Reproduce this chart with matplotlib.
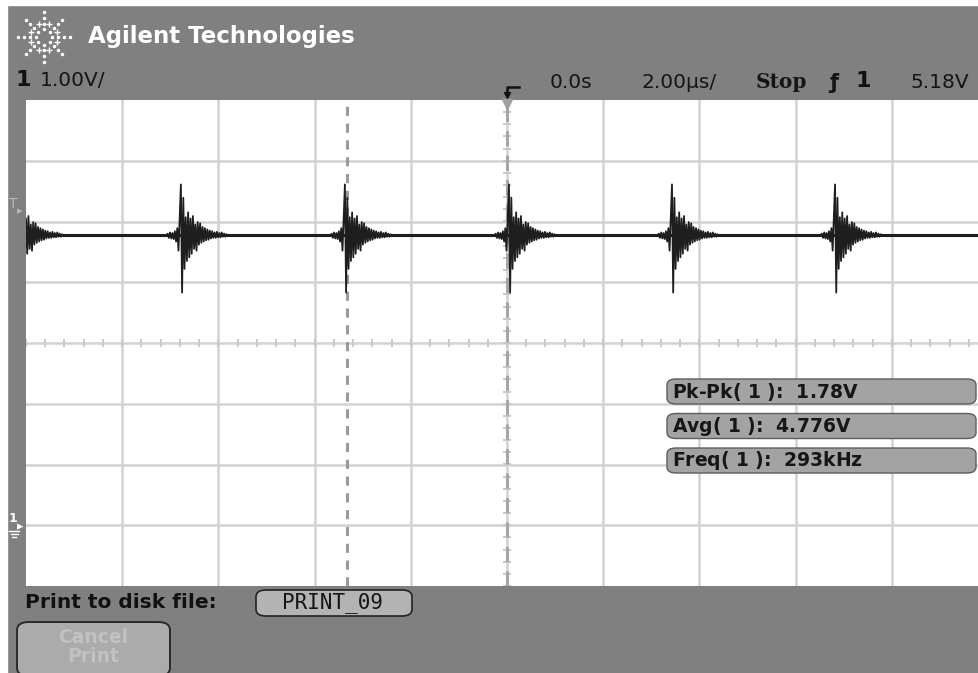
import numpy as np
import matplotlib.pyplot as plt
from matplotlib.patches import FancyBboxPatch, Rectangle

W, H = 979, 673

# scope settings
time_per_div = 2.0      # us/div
volts_per_div = 1.0     # V/div
offset_v = 3.03         # volts at screen centre
trigger_level = 5.18
cursor_t = -3.33

# channel 1: DC level with ringing bursts at each switching edge
baseline_v = 4.80
burst_times = [-10.2, -6.78, -3.37, 0.04, 3.43, 6.82]
burst_start = -0.30
burst_step = 0.025
burst_offsets = [0.00, 0.03, -0.04, 0.05, -0.05, 0.04, -0.06, 0.07, -0.10, 0.12,
                 -0.25, 0.30, 0.84, -0.94, 0.62, -0.55, 0.30, -0.42, 0.38, -0.36,
                 0.28, -0.30, 0.32, -0.22, 0.18, -0.25, 0.22, -0.15, 0.20, -0.12,
                 0.14, -0.10, 0.12, -0.08, 0.10, -0.07, 0.08, -0.05, 0.07, -0.04,
                 0.05, -0.04, 0.06, -0.03, 0.04, -0.03, 0.05, -0.02, 0.03, -0.02,
                 0.02, -0.01, 0.00]

meas_names = ["Pk-Pk", "Avg", "Freq"]
meas_values = ["1.78V", "4.776V", "293kHz"]


def fx(x):
    return x / W


def fy(y):
    return 1 - y / H


fig = plt.figure(figsize=(W / 100, H / 100), dpi=100)
fig.patch.set_facecolor('#808080')
fig.patches.append(Rectangle((0, fy(5)), 1, 5 / H, transform=fig.transFigure,
                             color='white', zorder=0))
fig.patches.append(Rectangle((0, 0), fx(7), 1, transform=fig.transFigure,
                             color='white', zorder=0))

# graticule area
left_px, top_px, bot_px = 26, 100, 586
px_per_us = 48.1
ax = fig.add_axes([fx(left_px), fy(bot_px), 1 - fx(left_px), (bot_px - top_px) / H])
ax.set_facecolor('white')
ax.set_xlim(-10, -10 + (W - left_px) / px_per_us)
ax.set_ylim(offset_v - 4 * volts_per_div, offset_v + 4 * volts_per_div)
for s in ax.spines.values():
    s.set_visible(False)
ax.set_xticks([])
ax.set_yticks([])

grid_c = '#d2d2d2'
for k in range(-4, 5):
    ax.axvline(k * time_per_div, color=grid_c, lw=1.8, zorder=1)
for k in range(-3, 4):
    ax.axhline(offset_v + k * volts_per_div, color=grid_c, lw=1.8, zorder=1)

# minor ticks on the centre lines
ht = np.arange(-10, 10.01, time_per_div / 5)
ax.vlines(ht, offset_v - 0.065, offset_v + 0.065, color='#c8c8c8', lw=1.4, zorder=1)
vt = offset_v + np.arange(-4, 4.01, volts_per_div / 5)
ax.hlines(vt, -0.08, 0.08, color='#c8c8c8', lw=1.4, zorder=1)

# trigger position and cursor
ax.axvline(0, color='#a6a6a6', lw=2.2, dashes=(5, 3), zorder=2)
ax.axvline(cursor_t, color='#9a9a9a', lw=2.2, dashes=(3, 2.5), zorder=2)
ax.plot(0, offset_v + 4 * volts_per_div - 0.06, marker='v', color='#a0a0a0',
        ms=7, clip_on=False, zorder=3)

# trace
t_all = [-10.5]
v_all = [baseline_v]
for tb in burst_times:
    for i, off in enumerate(burst_offsets):
        t_all.append(tb + burst_start + i * burst_step)
        v_all.append(baseline_v + off)
t_all.append(10.5)
v_all.append(baseline_v)
ax.plot(t_all, v_all, color='#1e1e1e', lw=1.3, zorder=4)
ax.axhline(baseline_v, color='#1e1e1e', lw=2.2, zorder=4)

# header: logo + brand
cx, cy = 44, 37
for a in np.arange(0, 360, 45):
    r = np.arange(8, 30, 6)
    xs = cx + r * np.cos(np.radians(a))
    ys = cy - r * np.sin(np.radians(a)) * 0.95
    fig.add_artist(plt.Line2D(fx(xs), fy(ys), ls='none', marker='o', ms=1.5,
                              color='white', transform=fig.transFigure))
for a in np.arange(22.5, 360, 45):
    r = np.array([14.0])
    xs = cx + r * np.cos(np.radians(a))
    ys = cy - r * np.sin(np.radians(a))
    fig.add_artist(plt.Line2D(fx(xs), fy(ys), ls='none', marker='+', ms=4,
                              mew=1, color='white', transform=fig.transFigure))
fig.text(fx(88), fy(37), "Agilent Technologies", color='white', fontsize=16.5,
         fontweight='bold', va='center', ha='left')

# status line
st = dict(fontsize=14.5, color='#151515', va='center')
fig.text(fx(16), fy(80), "1", fontsize=16, fontweight='bold', color='#111111',
         va='center')
fig.text(fx(40), fy(80), "1.00V/", **st)
fig.text(fx(550), fy(82), "0.0s", **st)
fig.text(fx(642), fy(82), "2.00µs/", **st)
fig.text(fx(756), fy(82), "Stop", fontsize=14.5, fontweight='bold',
         family='DejaVu Serif', color='#151515', va='center')
fig.text(fx(829), fy(83), "ƒ", fontsize=15, fontweight='bold', color='#151515',
         va='center')
fig.text(fx(855), fy(81), "1", fontsize=16, fontweight='bold', color='#111111',
         va='center')
fig.text(fx(969), fy(82), "5.18V", ha='right', **st)
fig.add_artist(plt.Line2D([fx(519), fx(507), fx(507)], [fy(87), fy(87), fy(95)],
                          color='#111111', lw=1.8, transform=fig.transFigure))
fig.add_artist(plt.Line2D([fx(507)], [fy(95)], marker='v', ms=5,
                          color='#111111', transform=fig.transFigure))

# left gutter markers
trig_y = top_px + (offset_v + 4 - trigger_level) * (bot_px - top_px) / 8
gnd_y = top_px + (offset_v + 4) * (bot_px - top_px) / 8
fig.text(fx(9), fy(trig_y - 8), "T", fontsize=10, color='#b8b8b8', va='center')
fig.text(fx(17), fy(trig_y - 1), "▸", fontsize=8, color='#b8b8b8', va='center')
fig.text(fx(9), fy(gnd_y - 9), "1", fontsize=9, fontweight='bold', color='white',
         va='center')
fig.text(fx(17), fy(gnd_y), "▸", fontsize=9, color='white', va='center')
for i, hw in enumerate([5, 3.5, 2]):
    fig.add_artist(plt.Line2D([fx(14 - hw), fx(14 + hw)],
                              [fy(gnd_y + 4 + 3 * i)] * 2, color='white', lw=1,
                              transform=fig.transFigure))

# measurement readouts
for i, (name, val) in enumerate(zip(meas_names, meas_values)):
    y0 = 379 + i * 34.5
    box = FancyBboxPatch((fx(667), fy(y0 + 25)), fx(976 - 667), 25 / H,
                         boxstyle="round,pad=0,rounding_size=0.009",
                         transform=fig.transFigure, facecolor='#a3a3a3',
                         edgecolor='#5c5c5c', lw=1.0, zorder=5)
    fig.patches.append(box)
    fig.text(fx(672), fy(y0 + 13), name + r"( $\mathbf{1}$ ):  " + val,
             fontsize=13.5, fontweight='bold', color='#161616', va='center',
             zorder=6)

# bottom softkey bar
fig.text(fx(25), fy(603), "Print to disk file:", fontsize=14.5, fontweight='bold',
         color='#111111', va='center')
fig.patches.append(FancyBboxPatch((fx(256), fy(616)), fx(412 - 256), 26 / H,
                                  boxstyle="round,pad=0,rounding_size=0.01",
                                  transform=fig.transFigure, facecolor='#b3b3b3',
                                  edgecolor='#222222', lw=1.2))
fig.text(fx(333), fy(603), "PRINT_09", fontsize=15, family='DejaVu Sans Mono',
         color='#151515', va='center', ha='center')
fig.patches.append(FancyBboxPatch((fx(17), fy(676)), fx(170 - 17), 54 / H,
                                  boxstyle="round,pad=0,rounding_size=0.012",
                                  transform=fig.transFigure, facecolor='#ababab',
                                  edgecolor='#2a2a2a', lw=1.4))
fig.text(fx(93), fy(647), "Cancel\nPrint", fontsize=13.5, fontweight='bold',
         color='#c2c2c2', va='center', ha='center', linespacing=1.05)

fig.savefig('out.png', dpi=100, facecolor=fig.get_facecolor())
